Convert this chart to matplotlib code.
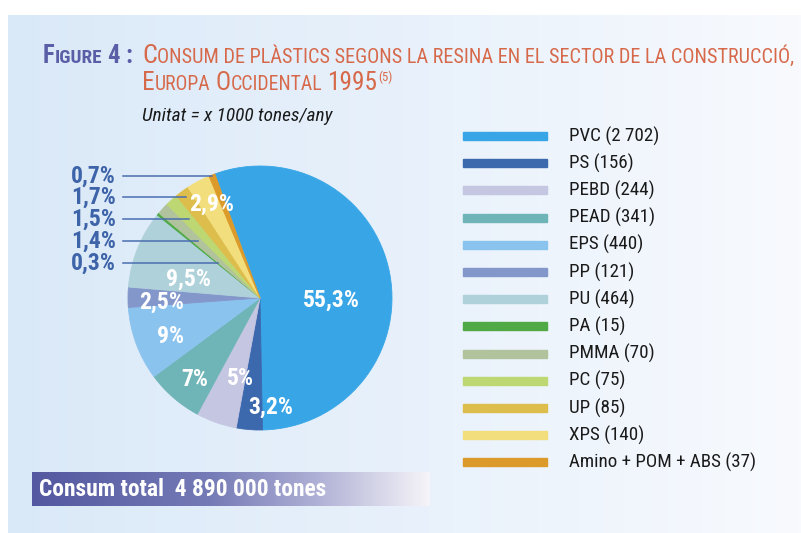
import matplotlib
matplotlib.use('Agg')
import matplotlib.pyplot as plt
import matplotlib.font_manager as fm
import numpy as np
from matplotlib.colors import LinearSegmentedColormap
from matplotlib.patches import Rectangle

# data (x 1000 tones/any)
resins = ['PVC', 'PS', 'PEBD', 'PEAD', 'EPS', 'PP', 'PU', 'PA', 'PMMA',
          'PC', 'UP', 'XPS', 'Amino + POM + ABS']
tonnes = [2702, 156, 244, 341, 440, 121, 464, 15, 70, 75, 85, 140, 37]
pct_labels = ['55,3%', '3,2%', '5%', '7%', '9%', '2,5%', '9,5%', '0,3%',
              '1,4%', '1,5%', '1,7%', '2,9%', '0,7%']
total_label = 'Consum total  4 890 000 tones'
unit_label = 'Unitat = x 1000 tones/any'

colors = ['#38A6E6', '#3C68AE', '#C5C6E1', '#6FB5B7', '#8BC3EF', '#8497CB',
          '#AFD1DA', '#4FAA45', '#B1C39D', '#BDD773', '#DDBD4C', '#F3DE7D',
          '#DC9A2A']

# label placement (style): radius fraction + angle shift for inside labels,
# None = outside label with a leader line at the given height (px from top)
inside_r = [0.54, 0.83, 0.63, 0.79, 0.74, 0.745, 0.56, None, None, None, None, 0.80, None]
inside_shift = [-12, 10, 6, 2, 3, 3, 7.5, 0, 0, 0, 0, -0.6, 0]
outside_y = {7: 263, 8: 241, 9: 219, 10: 197, 12: 176}

W, H = 801, 533

# the original uses a condensed sans; take one if the machine has it
cond_names = {f.name for f in fm.fontManager.ttflist
              if 'condensed' in str(f.stretch) or 'Condensed' in f.name
              or 'Narrow' in f.name}
family = 'DejaVu Sans'
for cand in ['Roboto Condensed', 'Liberation Sans Narrow', 'Noto Sans',
             'Open Sans', 'DejaVu Sans', 'Open Sans Condensed']:
    if cand in cond_names:
        family = cand
        break
plt.rcParams['font.family'] = [family, 'DejaVu Sans']
plt.rcParams['font.stretch'] = 'condensed'

BLUE_T = '#5A5EA6'
ORANGE = '#D7694B'
LBL_BLUE = '#3D63A8'


def Y(y):
    # pixel row from the top -> data y
    return H - y


fig = plt.figure(figsize=(W / 100, H / 100), dpi=100)
ax = fig.add_axes([0, 0, 1, 1])
renderer = fig.canvas.get_renderer()


def fit(txt, size, width, **kw):
    # font size that makes the text as wide as in the original
    t = ax.text(0, 0, txt, fontsize=size, **kw)
    w = t.get_window_extent(renderer).width
    t.remove()
    return size * width / w


# background panel
bg_cmap = LinearSegmentedColormap.from_list('bg', ['#DAE9F8', '#E8F1FB', '#F8FAFE'])
ax.imshow(np.linspace(0, 1, 256)[None, :], cmap=bg_cmap, aspect='auto',
          extent=(8, W, Y(H), Y(15)), zorder=0)

# pie
cx, cy, rad = 260, Y(298), 132
wedges, _ = ax.pie(tonnes, colors=colors, startangle=110, counterclock=False,
                   radius=rad, center=(cx, cy),
                   wedgeprops=dict(linewidth=0.6))
for w in wedges:
    w.set_edgecolor(w.get_facecolor())
    w.set_zorder(2)

in_size = fit('55,3%', 17, 57, fontweight='bold')
out_size = min(17, fit('0,7%', 15, 46, fontweight='bold'))
for i, w in enumerate(wedges):
    mid = np.deg2rad((w.theta1 + w.theta2) / 2)
    if inside_r[i] is not None:
        a = mid + np.deg2rad(inside_shift[i])
        r = inside_r[i] * rad
        ax.text(cx + r * np.cos(a), cy + r * np.sin(a), pct_labels[i],
                color='white', fontsize=in_size, fontweight='bold',
                ha='center', va='center', zorder=4)
    else:
        yl = Y(outside_y[i])
        xe = cx + (yl - cy) / np.tan(mid)
        ax.plot([123, xe], [yl, yl], color='#4A6EB0', lw=1.1, zorder=3)
        ax.text(116, yl, pct_labels[i], color=LBL_BLUE, fontsize=out_size,
                fontweight='bold', ha='right', va='center', zorder=4)

# legend
leg_labels = [f'{n} ({v:,})'.replace(',', ' ') for n, v in zip(resins, tonnes)]
leg_size = fit(leg_labels[-1], 12, 187)
for i, lab in enumerate(leg_labels):
    yb = Y(136 + 27.2 * i)
    ax.add_patch(Rectangle((463, yb - 4), 84, 8, color=colors[i], zorder=2))
    ax.text(569, yb, lab, fontsize=leg_size, color='#1A1A1A',
            va='center', ha='left', zorder=3)

# total banner
ban_cmap = LinearSegmentedColormap.from_list(
    'ban', [(0, '#5358A0'), (0.45, '#757BB6'), (0.72, '#B0B1D6'), (1, '#F6F4F8')])
ax.imshow(np.linspace(0, 1, 256)[None, :], cmap=ban_cmap, aspect='auto',
          extent=(32, 430, Y(506), Y(472)), zorder=2)
ax.text(39, Y(489), total_label, color='white',
        fontsize=fit(total_label, 16, 287, fontweight='bold'),
        fontweight='bold', va='center', ha='left', zorder=3)


# title in small caps, built run by run
def runs_at(x, y, runs, scale=1.0):
    arts = []
    for txt, size, color, weight, gap, dy in runs:
        t = ax.text(x, y + dy * scale, txt, fontsize=size * scale, color=color,
                    fontweight=weight, va='baseline', ha='left', zorder=3)
        arts.append(t)
        x += t.get_window_extent(renderer).width + gap * scale
    return x, arts


def runs_fit(x, y, runs, right):
    end, arts = runs_at(x, y, runs)
    for t in arts:
        t.remove()
    runs_at(x, y, runs, (right - x) / (end - x))


BIG, SMALL = 18, 14
runs_fit(43, Y(63), [
    ('F', BIG, BLUE_T, 'bold', 0, 0),
    ('IGURE', SMALL, BLUE_T, 'bold', 6, 0),
    ('4 :', BIG, BLUE_T, 'bold', 0, 0),
], 133)
runs_fit(142, Y(63), [
    ('C', BIG, ORANGE, 'normal', 0, 0),
    ('ONSUM DE PLÀSTICS SEGONS LA RESINA EN EL SECTOR DE LA CONSTRUCCIÓ,',
     SMALL, ORANGE, 'normal', 0, 0),
], 799)
runs_fit(142, Y(90), [
    ('E', BIG, ORANGE, 'normal', 0, 0),
    ('UROPA', SMALL, ORANGE, 'normal', 5, 0),
    ('O', BIG, ORANGE, 'normal', 0, 0),
    ('CCIDENTAL', SMALL, ORANGE, 'normal', 5, 0),
    ('1995', BIG, ORANGE, 'normal', 1, 0),
    ('(5)', 9, ORANGE, 'normal', 0, 9),
], 394)
ax.text(142, Y(121), unit_label,
        fontsize=fit(unit_label, 12, 190, style='italic'),
        style='italic', color='#1A1A1A', va='baseline', ha='left', zorder=3)

ax.set_xlim(0, W)
ax.set_ylim(0, H)
ax.set_aspect('auto')
ax.set_axis_off()

fig.savefig('out.png', dpi=100, facecolor='white')
